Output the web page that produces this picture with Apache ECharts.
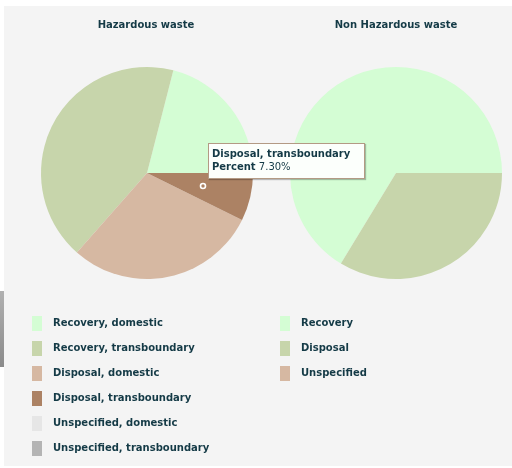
<!DOCTYPE html>
<html>
<head>
<meta charset="utf-8">
<script src="https://cdn.jsdelivr.net/npm/echarts@6/dist/echarts.min.js"></script>
<style>
  html, body { margin: 0; padding: 0; background: #ffffff; width: 512px; height: 468px; overflow: hidden; }
  #chart { position: absolute; left: 4px; top: 6px; width: 508px; height: 460px; background: #f4f4f4; }
  #sidebar { position: absolute; left: 0; top: 291px; width: 4px; height: 76px; background: linear-gradient(#b0b0b0, #8a8a8a); }
</style>
</head>
<body>
<div id="sidebar"></div>
<div id="chart"></div>
<script>
// ---- data ----
var chartTitles = ['Hazardous waste', 'Non Hazardous waste'];
var hazardousNames = ['Recovery, domestic', 'Recovery, transboundary', 'Disposal, domestic', 'Disposal, transboundary', 'Unspecified, domestic', 'Unspecified, transboundary'];
var hazardousValues = [21.0, 42.5, 29.2, 7.3, 0, 0];
var nonHazardousNames = ['Recovery', 'Disposal', 'Unspecified'];
var nonHazardousValues = [66.3, 33.7, 0];

// ---- styles ----
var hazardousColors = ['#d4fdd4', '#c7d5ab', '#d6b8a2', '#ac8264', '#e6e6e6', '#b4b4b4'];
var nonHazardousColors = ['#d4fdd4', '#c7d5ab', '#d6b8a2'];
var textColor = '#143a46';
var fontFamily = '"DejaVu Sans", Verdana, sans-serif';

function buildData(names, values, colors) {
  return names.map(function (n, i) {
    return { name: n, value: values[i], itemStyle: { color: colors[i] } };
  });
}

var chart = echarts.init(document.getElementById('chart'), null, { renderer: 'canvas' });

var legendBase = {
  orient: 'vertical',
  itemWidth: 10,
  itemHeight: 15,
  itemGap: 10,
  icon: 'rect',
  selectedMode: false,
  textStyle: { color: textColor, fontFamily: fontFamily, fontSize: 10, fontWeight: 'bold', padding: [0, 0, 0, 6] }
};

var option = {
  animation: false,
  backgroundColor: '#f4f4f4',
  title: chartTitles.map(function (t, i) {
    return {
      text: t,
      left: i === 0 ? 137 : 387,
      top: 9,
      textAlign: 'center',
      textStyle: { color: textColor, fontFamily: fontFamily, fontSize: 10, fontWeight: 'bold' }
    };
  }),
  tooltip: {
    trigger: 'item',
    triggerOn: 'none',
    alwaysShowContent: true,
    transitionDuration: 0,
    position: [204, 137],
    backgroundColor: '#fcfffc',
    borderColor: '#b39a84',
    borderWidth: 1,
    padding: [3, 14, 5, 3],
    extraCssText: 'border-radius:0;box-shadow:1px 1px 1px rgba(0,0,0,0.25);line-height:13px;',
    textStyle: { color: textColor, fontFamily: fontFamily, fontSize: 10 },
    formatter: function (p) {
      return '<b>' + p.name + '</b><br/><b>Percent</b> ' + p.percent.toFixed(2) + '%';
    }
  },
  legend: [
    Object.assign({}, legendBase, { left: 23, top: 305, data: hazardousNames }),
    Object.assign({}, legendBase, { left: 271, top: 305, data: nonHazardousNames })
  ],
  series: [
    {
      type: 'pie',
      name: chartTitles[0],
      center: [143, 167],
      radius: 106,
      startAngle: 0,
      clockwise: false,
      label: { show: false },
      labelLine: { show: false },
      emphasis: { disabled: true },
      data: buildData(hazardousNames, hazardousValues, hazardousColors)
    },
    {
      type: 'pie',
      name: chartTitles[1],
      center: [392, 167],
      radius: 106,
      startAngle: 0,
      clockwise: false,
      label: { show: false },
      labelLine: { show: false },
      emphasis: { disabled: true },
      data: buildData(nonHazardousNames, nonHazardousValues, nonHazardousColors)
    }
  ],
  graphic: [
    {
      type: 'circle',
      shape: { cx: 199, cy: 180, r: 2.5 },
      style: { fill: 'transparent', stroke: '#ffffff', lineWidth: 1.6 },
      z: 100
    }
  ]
};

chart.setOption(option);
chart.dispatchAction({ type: 'showTip', seriesIndex: 0, dataIndex: 3 });
</script>
</body>
</html>
